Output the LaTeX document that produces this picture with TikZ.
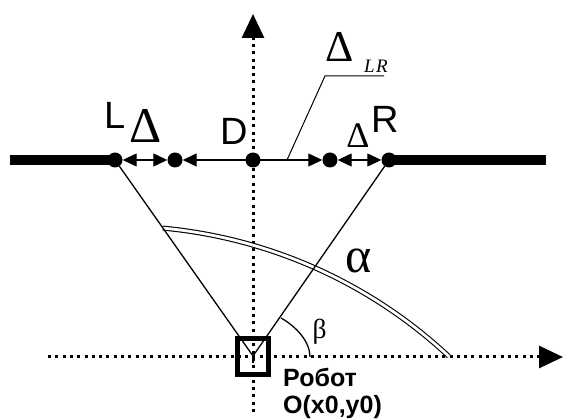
\documentclass[tikz,border=0pt]{standalone}
\usepackage{fontspec}
\setmainfont{Liberation Serif}
\newfontfamily\lsans{Liberation Sans}
\usetikzlibrary{arrows.meta}
\begin{document}
\begin{tikzpicture}[x=1pt,y=-1pt,
  dot/.style={circle,fill=black,inner sep=0pt,minimum size=15pt},
  thinline/.style={line width=1.3pt},
  axisline/.style={line width=3pt,dash pattern=on 3pt off 4.3pt,-{Triangle[length=24pt,width=22pt]}},
  dimarrow/.style={thinline,{Triangle[length=14pt,width=13pt]}-{Triangle[length=14pt,width=13pt]}},
  lab/.style={inner sep=0pt,anchor=base west},
  glab/.style={inner sep=0pt,anchor=base},
  bigsans/.style={font=\lsans\fontsize{38}{40}\selectfont},
  robotfont/.style={font=\lsans\bfseries\fontsize{25}{27}\selectfont}
]
\useasboundingbox (0,0) rectangle (563,419);

% axes
\coordinate (vb) at (253,412);
\coordinate (vt) at (253,14);
\coordinate (hb) at (48,357);
\coordinate (ht) at (563,357);
\draw[axisline] (vb) -- (vt);
\draw[axisline] (hb) -- (ht);

% alpha arc (double line)
\draw[line width=1.1pt,double,double distance=2.8pt] (162.8,228.1) arc[start angle=84.7,end angle=47,radius=485pt];

% points on the line
\node[dot] (L) at (115,160) {};
\node[dot] (d2) at (175,160) {};
\node[dot] (D) at (253,160) {};
\node[dot] (d4) at (330,160) {};
\node[dot] (R) at (389,160) {};

% thick wall line
\coordinate (lend) at (10,160);
\coordinate (rend) at (546,160);
\draw[line width=10pt] (lend) -- (L.center);
\draw[line width=10pt] (R.center) -- (rend);

% dimension arrows
\draw[dimarrow] (L) -- (d2);
\draw[dimarrow] (d2) -- (d4);
\draw[dimarrow] (d4) -- (R);

% view lines to robot
\coordinate (O) at (253,356);
\draw[thinline] (L) -- (O);
\draw[thinline] (R) -- (O);
\draw[thinline] (O) -- (253,363);

% robot box
\node[draw,line width=5pt,minimum width=31pt,minimum height=36pt,inner sep=0pt] (box) at (253,356.5) {};

% beta arc
\draw[thinline] (281,318) .. controls (297,327) and (310,342) .. (310,357);

% leader for Delta_LR
\coordinate (lp) at (287,160);
\coordinate (lc) at (325,76);
\coordinate (le) at (384,76);
\draw[line width=1pt] (lp) -- (lc) -- (le);

% labels
\node[lab,bigsans] (Llab) at (104,129) {L};
\node[lab,bigsans] (Dlab) at (220,145) {D};
\node[lab,bigsans] (Rlab) at (371,133) {R};
\node[glab,font=\fontsize{50}{52}\selectfont] (dL) at (145.5,143) {Δ};
\node[glab,font=\fontsize{36}{38}\selectfont] (dR) at (358,148) {Δ};
\node[glab,font=\fontsize{44}{46}\selectfont] (dLR) at (340,62) {Δ};
\node[lab,font=\itshape\fontsize{19}{20}\selectfont] (lr) at (364,73) {L\kern1.5pt R};
\node[glab,font=\fontsize{50}{52}\selectfont] (alpha) at (358.5,273) {α};
\node[glab,font=\fontsize{27.5}{29}\selectfont] (beta) at (319.5,339) {β};
\node[lab,robotfont] (robot) at (283,387) {Робот};
\node[lab,robotfont] (coord) at (283,414) {O(x0,y0)};
\end{tikzpicture}
\end{document}
